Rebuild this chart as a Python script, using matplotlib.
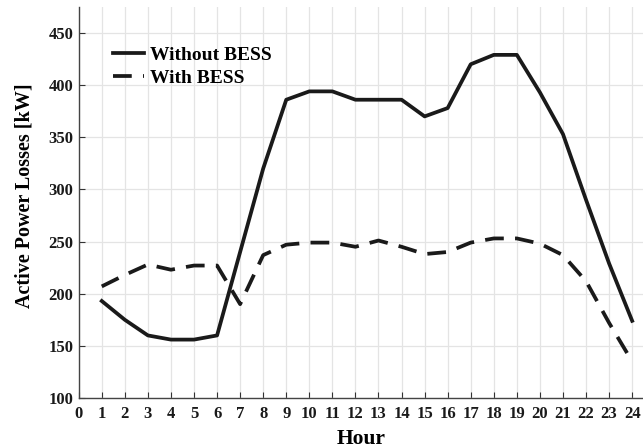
import matplotlib.pyplot as plt

hours = list(range(1, 25))
without_bess = [193, 175, 160, 156, 156, 160, 240, 320, 386, 394, 394, 386,
                386, 386, 370, 378, 420, 429, 429, 393, 353, 290, 229, 174]
with_bess = [207, 218, 228, 223, 227, 227, 190, 237, 247, 249, 249, 245,
             251, 245, 238, 240, 249, 253, 253, 248, 237, 212, 172, 135]
x_ticks = list(range(0, 25))
y_ticks = [100, 150, 200, 250, 300, 350, 400, 450]

plt.rcParams["font.family"] = ["Liberation Serif", "DejaVu Serif"]
plt.rcParams["font.weight"] = "bold"

fig = plt.figure(figsize=(6.43, 4.48), dpi=100)
ax = fig.add_axes([0.1224, 0.1116, 0.8776, 0.873])

ax.plot(hours, without_bess, color="#1a1a1a", linewidth=2.7,
        label="Without BESS")
ax.plot(hours, with_bess, color="#1a1a1a", linewidth=2.7,
        linestyle=(0, (5, 3)), label="With BESS")

ax.set_xlim(0, 24.47)
ax.set_ylim(100, 475)
ax.set_xticks(x_ticks)
ax.set_yticks(y_ticks)
ax.tick_params(direction="in", length=4, width=0.8, labelsize=12,
               colors="#333333", labelcolor="#1a1a1a")
ax.tick_params(axis="x", pad=6)
ax.tick_params(axis="y", pad=4)
for lbl in ax.get_xticklabels() + ax.get_yticklabels():
    lbl.set_fontweight("bold")

ax.grid(True, color="#e4e4e4", linewidth=0.9)
ax.set_axisbelow(True)
for side in ["top", "right"]:
    ax.spines[side].set_visible(False)
for side in ["left", "bottom"]:
    ax.spines[side].set_color("#444444")
    ax.spines[side].set_linewidth(1.0)

ax.set_xlabel("Hour", fontsize=15.5, fontweight="bold", labelpad=5)
ax.set_ylabel("Active Power Losses [kW]", fontsize=14.5, fontweight="bold")
ax.yaxis.set_label_coords(-0.078, 0.518)

ax.legend(loc="upper left", bbox_to_anchor=(0.061, 0.90), frameon=False,
          fontsize=14, handlelength=1.6, handletextpad=0.3,
          labelspacing=0.3, borderpad=0, borderaxespad=0)

fig.savefig("out.png", dpi=100)
plt.close(fig)
